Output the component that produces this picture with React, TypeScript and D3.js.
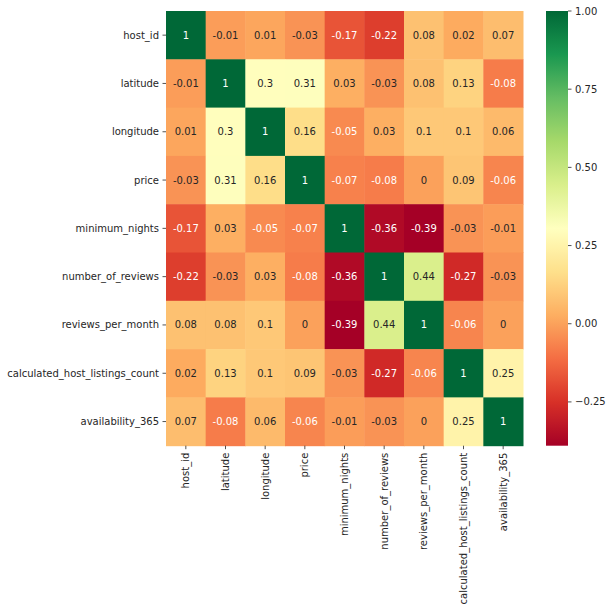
import * as d3 from "d3";
import { useEffect } from "react";

const W = 612;
const H = 612;

const features = [
  "host_id",
  "latitude",
  "longitude",
  "price",
  "minimum_nights",
  "number_of_reviews",
  "reviews_per_month",
  "calculated_host_listings_count",
  "availability_365",
];

// correlation rows, same order as features
const rowHostId = [1, -0.01, 0.01, -0.03, -0.17, -0.22, 0.08, 0.02, 0.07];
const rowLatitude = [-0.01, 1, 0.3, 0.31, 0.03, -0.03, 0.08, 0.13, -0.08];
const rowLongitude = [0.01, 0.3, 1, 0.16, -0.05, 0.03, 0.1, 0.1, 0.06];
const rowPrice = [-0.03, 0.31, 0.16, 1, -0.07, -0.08, 0, 0.09, -0.06];
const rowMinNights = [-0.17, 0.03, -0.05, -0.07, 1, -0.36, -0.39, -0.03, -0.01];
const rowNumReviews = [-0.22, -0.03, 0.03, -0.08, -0.36, 1, 0.44, -0.27, -0.03];
const rowReviewsMonth = [0.08, 0.08, 0.1, 0, -0.39, 0.44, 1, -0.06, 0];
const rowHostListings = [0.02, 0.13, 0.1, 0.09, -0.03, -0.27, -0.06, 1, 0.25];
const rowAvailability = [0.07, -0.08, 0.06, -0.06, -0.01, -0.03, 0, 0.25, 1];

const matrix = [
  rowHostId,
  rowLatitude,
  rowLongitude,
  rowPrice,
  rowMinNights,
  rowNumReviews,
  rowReviewsMonth,
  rowHostListings,
  rowAvailability,
];

const cbarTicks = [1, 0.75, 0.5, 0.25, 0, -0.25];

const FONT = "DejaVu Sans, sans-serif";
const TEXT_DARK = "#262626";

// plot box
const left = 166;
const right = 523;
const top = 11;
const bottom = 445.7;
const cbarX0 = 546;
const cbarX1 = 568;

function luminance(c: string) {
  const rgb = d3.rgb(c);
  const lin = (v: number) => {
    const s = v / 255;
    return s <= 0.03928 ? s / 12.92 : Math.pow((s + 0.055) / 1.055, 2.4);
  };
  return 0.2126 * lin(rgb.r) + 0.7152 * lin(rgb.g) + 0.0722 * lin(rgb.b);
}

export default function App() {
  useEffect(() => {
    document.body.style.margin = "0";
  }, []);

  const all = matrix.flat();
  const vmin = d3.min(all) ?? -0.39;
  const vmax = d3.max(all) ?? 1;

  const interp = d3.piecewise(d3.interpolateRgb, d3.schemeRdYlGn[11] as string[]);
  const color = (v: number) => interp((v - vmin) / (vmax - vmin));

  const x = d3.scaleBand<string>().domain(features).range([left, right]);
  const y = d3.scaleBand<string>().domain(features).range([top, bottom]);
  const cy = d3.scaleLinear().domain([vmin, vmax]).range([bottom, top]);

  const stops = d3.range(0, 101).map((i) => i / 100);

  return (
    <svg width={W} height={H} style={{ display: "block", background: "white" }} fontFamily={FONT}>
      <defs>
        <linearGradient id="cbar" x1="0" y1="1" x2="0" y2="0">
          {stops.map((t) => (
            <stop key={t} offset={t} stopColor={interp(t)} />
          ))}
        </linearGradient>
      </defs>

      {matrix.map((row, i) =>
        row.map((v, j) => {
          const fill = color(v);
          const tx = luminance(fill) > 0.408 ? TEXT_DARK : "white";
          const label = v.toString().replace("0.", "0.");
          return (
            <g key={`${i}-${j}`}>
              <rect
                x={x(features[j])}
                y={y(features[i])}
                width={x.bandwidth() + 0.5}
                height={y.bandwidth() + 0.5}
                fill={fill}
              />
              <text
                x={(x(features[j]) ?? 0) + x.bandwidth() / 2}
                y={(y(features[i]) ?? 0) + y.bandwidth() / 2}
                textAnchor="middle"
                dominantBaseline="central"
                fontSize={10}
                fill={tx}
              >
                {label}
              </text>
            </g>
          );
        }),
      )}

      {/* y axis */}
      {features.map((f) => {
        const yy = (y(f) ?? 0) + y.bandwidth() / 2;
        return (
          <g key={`y-${f}`}>
            <line x1={left - 3.5} x2={left} y1={yy} y2={yy} stroke={TEXT_DARK} strokeWidth={0.8} />
            <text x={left - 7} y={yy} textAnchor="end" dominantBaseline="central" fontSize={10} fill={TEXT_DARK}>
              {f}
            </text>
          </g>
        );
      })}

      {/* x axis */}
      {features.map((f) => {
        const xx = (x(f) ?? 0) + x.bandwidth() / 2;
        return (
          <g key={`x-${f}`}>
            <line x1={xx} x2={xx} y1={bottom} y2={bottom + 3.5} stroke={TEXT_DARK} strokeWidth={0.8} />
            <text
              transform={`translate(${xx},${bottom + 7}) rotate(-90)`}
              textAnchor="end"
              dominantBaseline="central"
              fontSize={10}
              fill={TEXT_DARK}
            >
              {f}
            </text>
          </g>
        );
      })}

      {/* colorbar */}
      <rect x={cbarX0} y={top} width={cbarX1 - cbarX0} height={bottom - top} fill="url(#cbar)" />
      {cbarTicks.map((t) => (
        <g key={`c-${t}`}>
          <line x1={cbarX1} x2={cbarX1 + 3.5} y1={cy(t)} y2={cy(t)} stroke={TEXT_DARK} strokeWidth={0.8} />
          <text x={cbarX1 + 7} y={cy(t)} dominantBaseline="central" fontSize={10} fill={TEXT_DARK}>
            {d3.format(".2f")(t).replace("-", "\u2212")}
          </text>
        </g>
      ))}
    </svg>
  );
}
